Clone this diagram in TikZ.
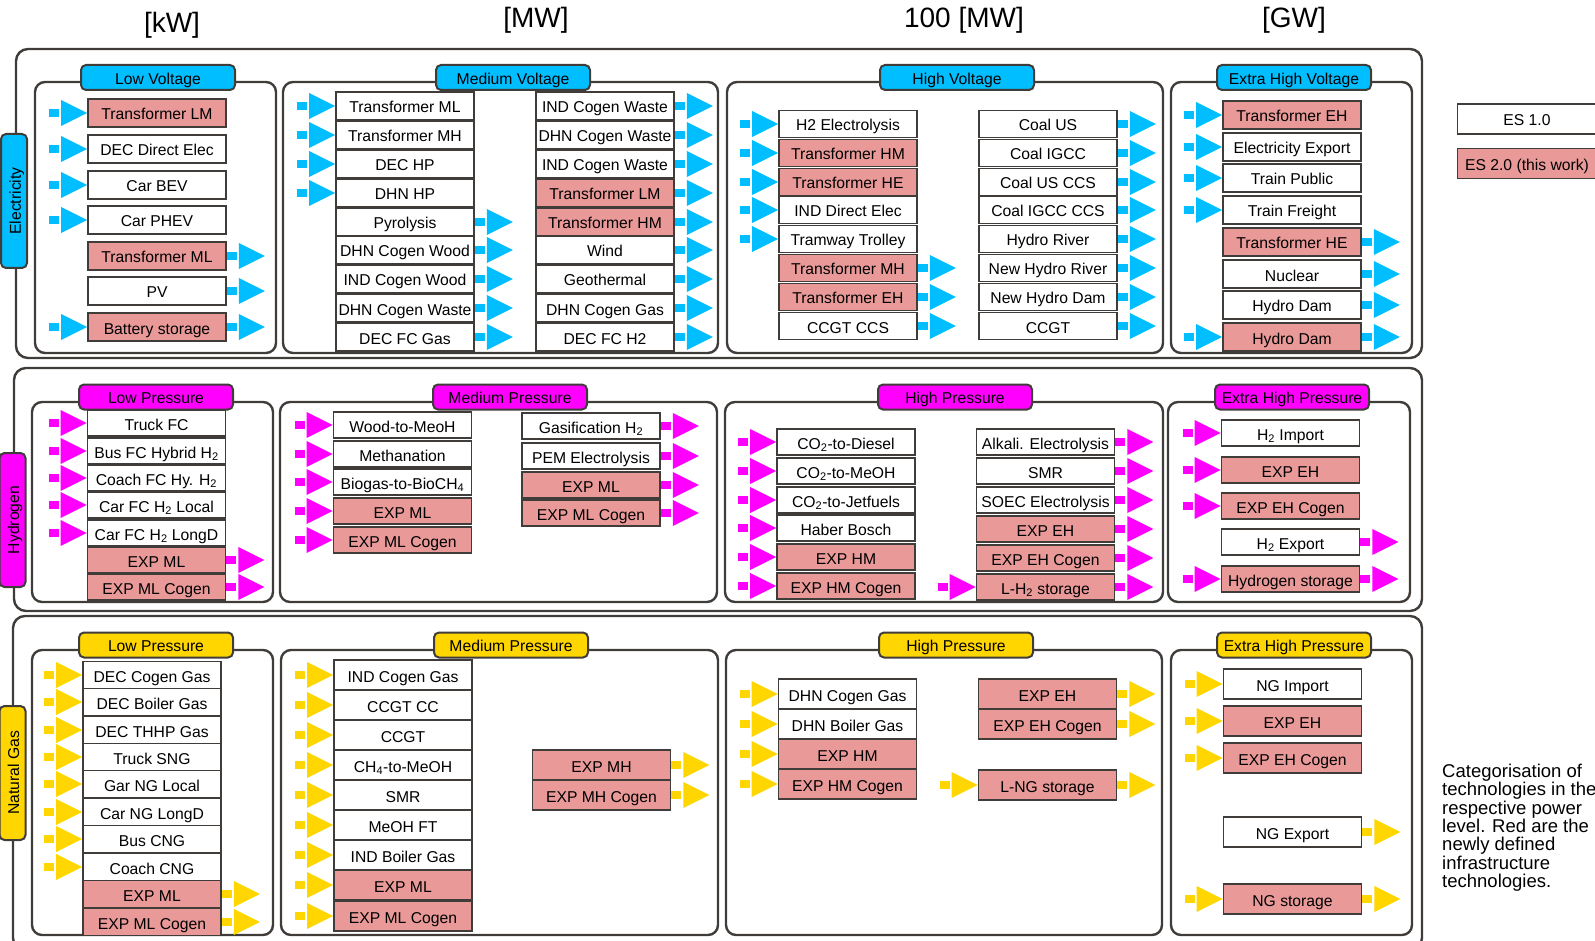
\documentclass[tikz,border=0pt]{standalone}
\usepackage{fontspec}
\setmainfont{Liberation Sans}

\definecolor{esblue}{RGB}{0,190,255}
\definecolor{esmagenta}{RGB}{255,0,255}
\definecolor{esyellow}{RGB}{255,214,0}
\definecolor{espink}{RGB}{234,153,153}
\definecolor{linegray}{RGB}{64,60,58}

\newcommand{\techfont}{\fontsize{15.7}{17}\selectfont}

% feed-in arrow left of a box, feed-out arrow right of a box
\newcommand{\flowin}[2]{%
  \fill[#2] ([xshift=-38pt,yshift=-4pt]#1.west) rectangle ++(10pt,8pt);
  \fill[#2] (#1.west) -- ++(-26pt,13pt) -- ++(0pt,-26pt) -- cycle;
}
\newcommand{\flowout}[2]{%
  \fill[#2] ([yshift=-4pt]#1.east) rectangle ++(10pt,8pt);
  \fill[#2] ([xshift=12pt]#1.east) -- ++(0pt,13pt) -- ++(26pt,-13pt)
    -- ++(-26pt,-13pt) -- cycle;
}

\tikzset{
  tech/.style={rectangle, draw=linegray, line width=1.8pt, fill=white,
               minimum width=138pt, minimum height=27pt, inner sep=0pt,
               text height=14pt, text depth=0pt, font=\techfont},
  level/.style={rectangle, rounded corners=5pt, draw=linegray, line width=2pt,
                minimum width=154pt, minimum height=25pt, inner sep=0pt,
                text height=13.5pt, text depth=0pt, font=\techfont},
  carrier/.style={level, rotate=90, minimum width=134pt, minimum height=26pt},
  frame/.style={draw=linegray, line width=2.4pt, rounded corners=10pt},
  sector/.style={draw=linegray, line width=2.4pt, rounded corners=12pt},
  unit/.style={font=\fontsize{28}{30}\selectfont},
}

\begin{document}
\begin{tikzpicture}[x=1pt, y=-1pt]

  \useasboundingbox (0,0) rectangle (1595,941);

  % power levels
  \node[unit] (kw)  at (172,25) {[kW]};
  \node[unit] (mw)  at (536,20) {[MW]};
  \node[unit] (hmw) at (964,20) {100 [MW]};
  \node[unit] (gw)  at (1294,20) {[GW]};

  % sectors
  \draw[sector] (16,49) rectangle (1422,358);
  \draw[sector] (14,368) rectangle (1422,611);
  \draw[sector] (13,616) rectangle (1422,950);

  \node[carrier, fill=esblue]    (elec)  at (14,201)   {Electricity};
  \node[carrier, fill=esmagenta] (hydro) at (12.5,520) {Hydrogen};
  \node[carrier, fill=esyellow]  (gas)   at (12.5,773) {Natural Gas};

  % levels
  \foreach \xa/\xb/\xt/\lab [count=\i] in {35/276/158/Low Voltage,
      283/718/513/Medium Voltage, 727/1163/957/High Voltage,
      1171/1412/1294/Extra High Voltage} {
    \draw[frame] (\xa,82) rectangle (\xb,353);
    \node[level, fill=esblue] (ev\i) at (\xt,77.5) {\lab};
  }
  \foreach \xa/\xb/\xt/\lab [count=\i] in {32/273/156/Low Pressure,
      280/717/510/Medium Pressure, 725/1163/955/High Pressure,
      1168/1410/1292/Extra High Pressure} {
    \draw[frame] (\xa,402) rectangle (\xb,602);
    \node[level, fill=esmagenta] (hp\i) at (\xt,397) {\lab};
  }
  \foreach \xa/\xb/\xt/\lab [count=\i] in {32/273/156/Low Pressure,
      281/718/511/Medium Pressure, 726/1162/956/High Pressure,
      1171/1412/1294/Extra High Pressure} {
    \draw[frame] (\xa,650) rectangle (\xb,935);
    \node[level, fill=esyellow] (gp\i) at (\xt,645) {\lab};
  }

  % ---------------- electricity ----------------
  \foreach \y/\lab/\col [count=\i] in {113/Transformer LM/espink,
      149/DEC Direct Elec/white, 185/Car BEV/white, 220/Car PHEV/white,
      256/Transformer ML/espink, 291/PV/white, 327/Battery storage/espink}
    \node[tech, minimum height=28pt, fill=\col] (elv\i) at (157,\y) {\lab};
  \foreach \i in {1,...,4,7} {\flowin{elv\i}{esblue}}
  \foreach \i in {5,6,7} {\flowout{elv\i}{esblue}}

  \foreach \y/\lab/\col [count=\i] in {106/Transformer ML/white,
      135/Transformer MH/white, 164/DEC HP/white, 193/DHN HP/white,
      222/Pyrolysis/white, 250/DHN Cogen Wood/white, 279/IND Cogen Wood/white,
      308/DHN Cogen Waste/white, 337/DEC FC Gas/white}
    \node[tech, minimum height=27.5pt, fill=\col] (emvl\i) at (405,\y) {\lab};
  \foreach \i in {1,...,4} {\flowin{emvl\i}{esblue}}
  \foreach \i in {5,...,9} {\flowout{emvl\i}{esblue}}

  \foreach \y/\lab/\col [count=\i] in {106/IND Cogen Waste/white,
      135/DHN Cogen Waste/white, 164/IND Cogen Waste/white,
      193/Transformer LM/espink, 222/Transformer HM/espink, 250/Wind/white,
      279/Geothermal/white, 308/DHN Cogen Gas/white, 337/DEC FC H2/white}
    \node[tech, minimum height=27.5pt, fill=\col] (emvr\i) at (605,\y) {\lab};
  \foreach \i in {1,...,9} {\flowout{emvr\i}{esblue}}

  \foreach \y/\lab/\col [count=\i] in {124/H2 Electrolysis/white,
      153/Transformer HM/espink, 182/Transformer HE/espink,
      210/IND Direct Elec/white, 239/Tramway Trolley/white,
      268/Transformer MH/espink, 297/Transformer EH/espink, 326/CCGT CCS/white}
    \node[tech, fill=\col] (ehvl\i) at (848,\y) {\lab};
  \foreach \i in {1,...,5} {\flowin{ehvl\i}{esblue}}
  \foreach \i in {6,7,8} {\flowout{ehvl\i}{esblue}}

  \foreach \y/\lab/\col [count=\i] in {124/Coal US/white, 153/Coal IGCC/white,
      182/Coal US CCS/white, 210/Coal IGCC CCS/white, 239/Hydro River/white,
      268/New Hydro River/white, 297/New Hydro Dam/white, 326/CCGT/white}
    \node[tech, fill=\col] (ehvr\i) at (1048,\y) {\lab};
  \foreach \i in {1,...,8} {\flowout{ehvr\i}{esblue}}

  \foreach \y/\lab/\col [count=\i] in {115/Transformer EH/espink,
      147/Electricity Export/white, 178/Train Public/white,
      210/Train Freight/white, 242/Transformer HE/espink, 274/Nuclear/white,
      305/Hydro Dam/white, 337/Hydro Dam/espink}
    \node[tech, minimum height=28pt, fill=\col] (eehv\i) at (1292,\y) {\lab};
  \foreach \i in {1,...,4,8} {\flowin{eehv\i}{esblue}}
  \foreach \i in {5,...,8} {\flowout{eehv\i}{esblue}}

  % ---------------- hydrogen ----------------
  \foreach \y/\lab/\col [count=\i] in {423/Truck FC/white,
      451/Bus FC Hybrid H\textsubscript{2}/white,
      478/Coach FC Hy. H\textsubscript{2}/white,
      505/Car FC H\textsubscript{2} Local/white,
      533/Car FC H\textsubscript{2} LongD/white,
      560/EXP ML/espink, 587/EXP ML Cogen/espink}
    \node[tech, minimum height=25.5pt, fill=\col] (hlp\i) at (156.5,\y) {\lab};
  \foreach \i in {1,...,5} {\flowin{hlp\i}{esmagenta}}
  \foreach \i in {6,7} {\flowout{hlp\i}{esmagenta}}

  \foreach \y/\lab/\col [count=\i] in {425/Wood-to-MeoH/white,
      454/Methanation/white, 482/Biogas-to-BioCH\textsubscript{4}/white,
      511/EXP ML/espink, 540/EXP ML Cogen/espink}
    \node[tech, minimum height=26pt, fill=\col] (hmpl\i) at (402.5,\y) {\lab};
  \foreach \i in {1,...,5} {\flowin{hmpl\i}{esmagenta}}

  \foreach \y/\lab/\col [count=\i] in {426/Gasification H\textsubscript{2}/white,
      456/PEM Electrolysis/white, 485/EXP ML/espink, 513/EXP ML Cogen/espink}
    \node[tech, minimum height=26pt, fill=\col] (hmpr\i) at (591,\y) {\lab};
  \foreach \i in {1,...,4} {\flowout{hmpr\i}{esmagenta}}

  \foreach \y/\lab/\col [count=\i] in {442/CO\textsubscript{2}-to-Diesel/white,
      471/CO\textsubscript{2}-to-MeOH/white,
      500/CO\textsubscript{2}-to-Jetfuels/white, 528/Haber Bosch/white,
      557/EXP HM/espink, 586/EXP HM Cogen/espink}
    \node[tech, minimum height=26pt, fill=\col] (hhpl\i) at (846,\y) {\lab};
  \foreach \i in {1,...,6} {\flowin{hhpl\i}{esmagenta}}

  \foreach \y/\lab/\col [count=\i] in {442/Alkali. Electrolysis/white,
      471/SMR/white, 500/SOEC Electrolysis/white, 529/EXP EH/espink,
      558/EXP EH Cogen/espink, 587/L-H\textsubscript{2} storage/espink}
    \node[tech, minimum height=26pt, fill=\col] (hhpr\i) at (1045.5,\y) {\lab};
  \foreach \i in {1,...,6} {\flowout{hhpr\i}{esmagenta}}
  \flowin{hhpr6}{esmagenta}

  \foreach \y/\lab/\col [count=\i] in {433/H\textsubscript{2} Import/white,
      470/EXP EH/espink, 506/EXP EH Cogen/espink,
      542/H\textsubscript{2} Export/white, 579/Hydrogen storage/espink}
    \node[tech, minimum height=26pt, fill=\col] (hehp\i) at (1290.5,\y) {\lab};
  \foreach \i in {1,2,3,5} {\flowin{hehp\i}{esmagenta}}
  \foreach \i in {4,5} {\flowout{hehp\i}{esmagenta}}

  % ---------------- natural gas ----------------
  \foreach \y/\lab/\col [count=\i] in {675/DEC Cogen Gas/white,
      702/DEC Boiler Gas/white, 730/DEC THHP Gas/white, 757/Truck SNG/white,
      784/Gar NG Local/white, 812/Car NG LongD/white, 839/Bus CNG/white,
      867/Coach CNG/white, 894/EXP ML/espink, 922/EXP ML Cogen/espink}
    \node[tech, fill=\col] (glp\i) at (152,\y) {\lab};
  \foreach \i in {1,...,8} {\flowin{glp\i}{esyellow}}
  \foreach \i in {9,10} {\flowout{glp\i}{esyellow}}

  \foreach \y/\lab/\col [count=\i] in {675/IND Cogen Gas/white,
      705/CCGT CC/white, 735/CCGT/white, 765/CH\textsubscript{4}-to-MeOH/white,
      795/SMR/white, 825/MeOH FT/white, 855/IND Boiler Gas/white,
      885/EXP ML/espink, 916/EXP ML Cogen/espink}
    \node[tech, minimum height=29.5pt, fill=\col] (gmpl\i) at (403,\y) {\lab};
  \foreach \i in {1,...,9} {\flowin{gmpl\i}{esyellow}}

  \foreach \y/\lab/\col [count=\i] in {765/EXP MH/espink, 795/EXP MH Cogen/espink}
    \node[tech, minimum height=29.5pt, fill=\col] (gmpr\i) at (601.5,\y) {\lab};
  \foreach \i in {1,2} {\flowout{gmpr\i}{esyellow}}

  \foreach \y/\lab/\col [count=\i] in {694/DHN Cogen Gas/white,
      724/DHN Boiler Gas/white, 754/EXP HM/espink, 784/EXP HM Cogen/espink}
    \node[tech, minimum height=29.5pt, fill=\col] (ghpl\i) at (847.5,\y) {\lab};
  \foreach \i in {1,...,4} {\flowin{ghpl\i}{esyellow}}

  \foreach \y/\lab/\col [count=\i] in {694/EXP EH/espink,
      724/EXP EH Cogen/espink, 785/L-NG storage/espink}
    \node[tech, minimum height=29.5pt, fill=\col] (ghpr\i) at (1047.5,\y) {\lab};
  \foreach \i in {1,2,3} {\flowout{ghpr\i}{esyellow}}
  \flowin{ghpr3}{esyellow}

  \foreach \y/\lab/\col [count=\i] in {684/NG Import/white, 721/EXP EH/espink,
      758/EXP EH Cogen/espink, 832/NG Export/white, 899/NG storage/espink}
    \node[tech, minimum height=30pt, fill=\col] (gehp\i) at (1292.5,\y) {\lab};
  \foreach \i in {1,2,3,5} {\flowin{gehp\i}{esyellow}}
  \foreach \i in {4,5} {\flowout{gehp\i}{esyellow}}

  % legend and caption
  \node[tech, minimum width=139pt, minimum height=30pt] (es1) at (1527,119) {ES 1.0};
  \node[tech, minimum width=139pt, minimum height=30pt, fill=espink] (es2)
    at (1527,163.5) {ES 2.0 (this work)};

  \node[anchor=north west, align=left, inner sep=0pt,
        font=\fontsize{18.5}{18.3}\selectfont] (caption) at (1442,764)
    {Categorisation of\\technologies in the\\respective power\\level. Red are the\\
     newly defined\\infrastructure\\technologies.};

\end{tikzpicture}
\end{document}
